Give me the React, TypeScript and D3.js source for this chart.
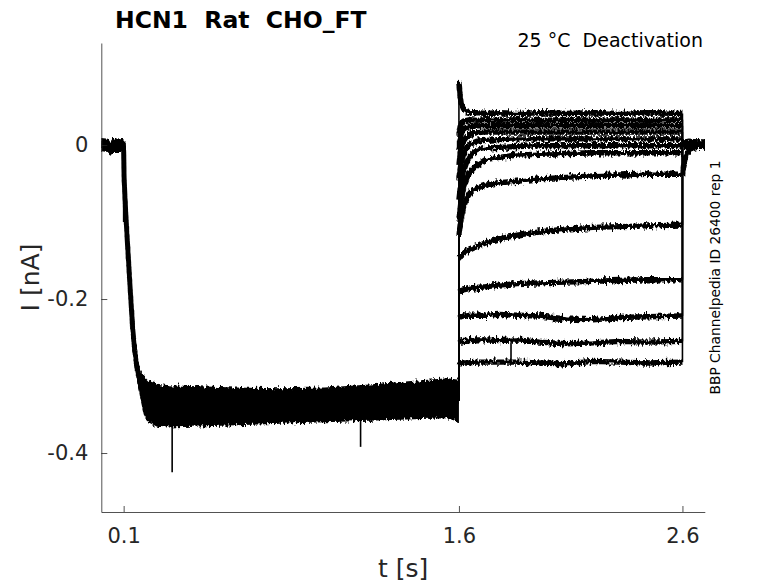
import { useEffect, useRef } from 'react';
import * as d3 from 'd3';

// activation step (all sweeps overlap): band of the noisy traces
const ACT_T = [0, 0.03, 0.04, 0.05, 0.099, 0.1, 0.102, 0.105, 0.11, 0.12, 0.13, 0.14, 0.15, 0.16, 0.175, 0.19, 0.21, 0.25, 0.3, 0.4, 0.6, 0.8, 1.0, 1.2, 1.4, 1.55, 1.6];
const ACT_HI = [0.009, 0.008, 0.004, 0.008, 0.009, 0.002, -0.035, -0.055, -0.085, -0.135, -0.18, -0.225, -0.255, -0.275, -0.292, -0.3, -0.306, -0.31, -0.312, -0.313, -0.315, -0.316, -0.315, -0.311, -0.306, -0.303, -0.305];
const ACT_LO = [-0.008, -0.009, -0.016, -0.009, -0.009, -0.015, -0.05, -0.07, -0.1, -0.15, -0.2, -0.25, -0.28, -0.305, -0.33, -0.35, -0.36, -0.366, -0.367, -0.366, -0.364, -0.362, -0.36, -0.358, -0.356, -0.355, -0.36];

// deactivation tails, one row per sweep (bottom to top)
const TAIL_T = [1.6, 1.605, 1.61, 1.62, 1.635, 1.65, 1.68, 1.72, 1.78, 1.86, 1.96, 2.08, 2.2, 2.32, 2.44, 2.6];
const TAILS = [
  [-0.286, -0.284, -0.284, -0.283, -0.283, -0.283, -0.282, -0.282, -0.282, -0.282, -0.283, -0.284, -0.281, -0.282, -0.283, -0.282],
  [-0.257, -0.256, -0.256, -0.255, -0.255, -0.254, -0.253, -0.253, -0.254, -0.253, -0.256, -0.258, -0.257, -0.255, -0.256, -0.255],
  [-0.225, -0.223, -0.223, -0.222, -0.222, -0.221, -0.221, -0.221, -0.22, -0.221, -0.222, -0.226, -0.227, -0.224, -0.223, -0.222],
  [-0.191, -0.19, -0.189, -0.188, -0.187, -0.186, -0.185, -0.184, -0.182, -0.18, -0.179, -0.178, -0.177, -0.176, -0.175, -0.175],
  [-0.147, -0.145, -0.143, -0.141, -0.138, -0.136, -0.132, -0.127, -0.122, -0.117, -0.113, -0.109, -0.107, -0.106, -0.105, -0.104],
  [-0.117, -0.105, -0.095, -0.081, -0.069, -0.062, -0.056, -0.052, -0.049, -0.047, -0.044, -0.042, -0.04, -0.039, -0.038, -0.038],
  [-0.097, -0.084, -0.071, -0.056, -0.043, -0.035, -0.026, -0.019, -0.016, -0.013, -0.012, -0.011, -0.01, -0.01, -0.01, -0.01],
  [-0.071, -0.058, -0.048, -0.035, -0.022, -0.014, -0.007, -0.004, -0.003, -0.002, -0.001, -0.001, -0.001, -0.001, -0.001, -0.001],
  [-0.045, -0.032, -0.023, -0.013, -0.004, 0.001, 0.005, 0.006, 0.007, 0.008, 0.008, 0.008, 0.008, 0.008, 0.008, 0.008],
  [-0.026, -0.013, -0.004, 0.005, 0.011, 0.014, 0.016, 0.017, 0.017, 0.017, 0.017, 0.017, 0.017, 0.017, 0.017, 0.017],
  [-0.006, 0.006, 0.014, 0.021, 0.023, 0.024, 0.025, 0.025, 0.025, 0.025, 0.025, 0.025, 0.025, 0.025, 0.025, 0.025],
  [0.013, 0.022, 0.027, 0.031, 0.032, 0.033, 0.032, 0.033, 0.032, 0.033, 0.032, 0.033, 0.032, 0.033, 0.032, 0.033],
  [0.082, 0.065, 0.054, 0.047, 0.043, 0.042, 0.042, 0.041, 0.042, 0.041, 0.042, 0.041, 0.042, 0.041, 0.042, 0.041],
];

// back at holding potential
const POST_T = [2.6, 2.605, 2.615, 2.63, 2.66, 2.7];
const POSTS = [
  [-0.003, -0.002, -0.002, -0.002, -0.001, -0.002],
  [-0.002, -0.002, -0.001, -0.002, -0.001, -0.001],
  [-0.001, -0.001, 0, -0.001, 0, -0.001],
  [0, 0, 0, 0, 0.001, 0],
  [0, 0.001, 0, 0.001, 0, 0.001],
  [-0.04, -0.028, -0.015, -0.006, -0.002, -0.001],
  [0.001, 0.001, 0.002, 0.001, 0.002, 0.001],
  [0.002, 0.002, 0.001, 0.002, 0.002, 0.002],
  [0.002, 0.003, 0.002, 0.003, 0.002, 0.003],
  [0.003, 0.003, 0.002, 0.003, 0.003, 0.003],
  [0.003, 0.004, 0.003, 0.004, 0.003, 0.003],
  [0.004, 0.004, 0.003, 0.004, 0.004, 0.003],
  [0.005, 0.004, 0.004, 0.005, 0.004, 0.004],
];

// single-sample artefacts
const SPIKE_T = [0.1, 0.317, 1.16, 1.833];
const SPIKE_FROM = [-0.02, -0.36, -0.355, -0.285];
const SPIKE_TO = [-0.1, -0.425, -0.392, -0.256];

const X_TICKS = [0.1, 1.6, 2.6];
const X_LABELS = ['0.1', '1.6', '2.6'];
const Y_TICKS = [0, -0.2, -0.4];
const Y_LABELS = ['0', '-0.2', '-0.4'];

const FONT = 'DejaVu Sans, sans-serif';
const INK = '#262626';

export default function App() {
  const svgRef = useRef<SVGSVGElement>(null);

  useEffect(() => {
    if (!svgRef.current) return;
    const svg = d3.select(svgRef.current);
    svg.selectAll('*').remove();

    const left = 101.3, right = 704.8, top = 43, bottom = 512;
    const x = d3.scaleLinear().domain([0, 2.7]).range([left, right]);
    const y = d3.scaleLinear().domain([-0.4766, 0.1325]).range([bottom, top]);

    // noise texture for the recorded traces (vertical jitter only)
    const defs = svg.append('defs');
    const f = defs.append('filter').attr('id', 'jitter')
      .attr('filterUnits', 'userSpaceOnUse')
      .attr('x', 0).attr('y', 0).attr('width', 778).attr('height', 583);
    f.append('feTurbulence').attr('type', 'fractalNoise')
      .attr('baseFrequency', '0.5 0.2').attr('numOctaves', 2).attr('seed', 3).attr('result', 'n');
    f.append('feColorMatrix').attr('in', 'n').attr('type', 'matrix')
      .attr('values', '0 0 0 0 0.5  0 1 0 0 0  0 0 1 0 0  0 0 0 0 1').attr('result', 'm');
    f.append('feDisplacementMap').attr('in', 'SourceGraphic').attr('in2', 'm')
      .attr('scale', 8).attr('xChannelSelector', 'R').attr('yChannelSelector', 'G');

    const traces = svg.append('g').attr('filter', 'url(#jitter)');

    // activation band
    const band = d3.area<number>()
      .x(i => x(ACT_T[i]))
      .y0(i => y(ACT_LO[i]))
      .y1(i => y(ACT_HI[i]));
    const idx = d3.range(ACT_T.length);
    traces.append('path').attr('d', band(idx)).attr('fill', '#000');
    const mid = d3.line<number>()
      .x(i => x(ACT_T[i]))
      .y(i => y((ACT_HI[i] + ACT_LO[i]) / 2));
    traces.append('path').attr('d', mid(idx))
      .attr('fill', 'none').attr('stroke', '#000').attr('stroke-width', 5);

    // deactivation sweeps: thick noisy segments, thin voltage-step jumps
    const line = d3.line<[number, number]>().x(d => x(d[0])).y(d => y(d[1]));
    const actEnd = (ACT_HI[ACT_HI.length - 1] + ACT_LO[ACT_LO.length - 1]) / 2;
    const jumps = svg.append('g').attr('stroke', '#000').attr('stroke-width', 1.6);
    TAILS.forEach((vals, s) => {
      const tail: [number, number][] = vals.map((v, i) => [TAIL_T[i], v]);
      const post: [number, number][] = POSTS[s].map((v, i) => [POST_T[i], v]);
      [tail, post].forEach(pts => {
        traces.append('path').attr('d', line(pts))
          .attr('fill', 'none').attr('stroke', '#000')
          .attr('stroke-width', 5.4).attr('stroke-linejoin', 'round');
      });
      jumps.append('line')
        .attr('x1', x(1.6)).attr('x2', x(1.6))
        .attr('y1', y(actEnd)).attr('y2', y(vals[0]));
      jumps.append('line')
        .attr('x1', x(2.6)).attr('x2', x(2.6))
        .attr('y1', y(vals[vals.length - 1])).attr('y2', y(POSTS[s][0]));
    });

    SPIKE_T.forEach((t, i) => {
      svg.append('line')
        .attr('x1', x(t)).attr('x2', x(t))
        .attr('y1', y(SPIKE_FROM[i])).attr('y2', y(SPIKE_TO[i]))
        .attr('stroke', '#000').attr('stroke-width', 1.6);
    });

    // axes, ticks pointing inward
    const gx = svg.append('g').attr('transform', `translate(0,${bottom})`)
      .call(d3.axisBottom(x).tickValues(X_TICKS).tickFormat((_, i) => X_LABELS[i])
        .tickSizeInner(-6).tickSizeOuter(0).tickPadding(16));
    const gy = svg.append('g').attr('transform', `translate(${left},0)`)
      .call(d3.axisLeft(y).tickValues(Y_TICKS).tickFormat((_, i) => Y_LABELS[i])
        .tickSizeInner(-6).tickSizeOuter(0).tickPadding(13));
    [gx, gy].forEach(g => {
      g.select('.domain').attr('stroke', INK).attr('stroke-width', 0.8);
      g.selectAll('.tick line').attr('stroke', INK).attr('stroke-width', 0.8);
      g.selectAll('text').attr('font-size', 21).attr('font-family', FONT).attr('fill', INK);
    });

    svg.append('text')
      .attr('x', (left + right) / 2).attr('y', 577)
      .attr('text-anchor', 'middle')
      .attr('font-size', 25).attr('font-family', FONT).attr('fill', INK)
      .text('t [s]');

    svg.append('text')
      .attr('transform', `translate(39,${(top + bottom) / 2}) rotate(-90)`)
      .attr('text-anchor', 'middle')
      .attr('font-size', 25).attr('font-family', FONT).attr('fill', INK)
      .text('I [nA]');

    svg.append('text')
      .attr('x', 115).attr('y', 27.5)
      .attr('font-size', 23.5).attr('font-weight', 'bold').attr('font-family', FONT)
      .attr('fill', '#000').style('white-space', 'pre')
      .text('HCN1  Rat  CHO_FT');

    svg.append('text')
      .attr('x', 703).attr('y', 47)
      .attr('text-anchor', 'end')
      .attr('font-size', 19).attr('font-family', FONT).attr('fill', '#000')
      .style('white-space', 'pre')
      .text('25 °C  Deactivation');

    svg.append('text')
      .attr('transform', `translate(720,${(top + bottom) / 2}) rotate(-90)`)
      .attr('text-anchor', 'middle')
      .attr('font-size', 13.8).attr('font-family', FONT).attr('fill', '#000')
      .text('BBP Channelpedia ID 26400 rep 1');
  }, []);

  return (
    <svg ref={svgRef} width={778} height={583}
      style={{ position: 'absolute', left: 0, top: 0, background: '#fff' }} />
  );
}
